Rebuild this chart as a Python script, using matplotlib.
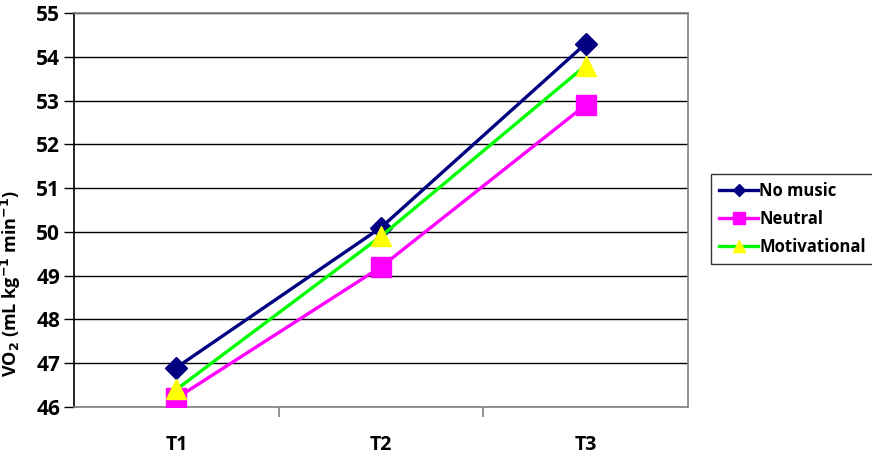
import matplotlib.pyplot as plt
import numpy as np

plt.rcParams['font.family'] = ['Open Sans', 'DejaVu Sans']

# data
times = ['T1', 'T2', 'T3']
no_music = [46.9, 50.1, 54.3]
neutral = [46.2, 49.2, 52.9]
motivational = [46.4, 49.9, 53.8]

fig = plt.figure(figsize=(8.72, 4.72), dpi=100)
ax = fig.add_axes([0.0849, 0.1377, 0.7041, 0.8348])

x = np.arange(len(times))
ax.plot(x, no_music, color='#000080', lw=2.4, marker='D', ms=11,
        mfc='#000080', mec='#000080', label='No music', zorder=3)
ax.plot(x, neutral, color='#FF00FF', lw=2.4, marker='s', ms=14,
        mfc='#FF00FF', mec='#FF00FF', label='Neutral', zorder=3)
ax.plot(x, motivational, color='#00FF00', lw=2.4, marker='^', ms=15,
        mfc='#FFFF00', mec='#FFFF00', label='Motivational', zorder=4)

ax.set_xlim(-0.5, 2.5)
ax.set_ylim(46, 55)
ax.set_yticks(np.arange(46, 56, 1))
ax.yaxis.grid(True, color='black', lw=1)
ax.set_axisbelow(True)

# category labels centred, tick marks at boundaries
ax.set_xticks(x)
ax.set_xticklabels(times, fontsize=14, fontweight='bold')
ax.tick_params(axis='x', length=0, pad=20)
ax.set_xticks([0.5, 1.5], minor=True)
ax.tick_params(axis='x', which='minor', length=7, color='#808080', width=1.2)
ax.tick_params(axis='y', length=7, width=1, labelsize=15, pad=3)
for lab in ax.get_yticklabels():
    lab.set_fontweight('bold')

ax.spines['left'].set_color('black')
ax.spines['bottom'].set_color('#808080')
ax.spines['top'].set_color('#808080')
ax.spines['right'].set_color('#808080')
for s in ax.spines.values():
    s.set_linewidth(1.2)

fig.text(0.013, 0.40, r'VO$_\mathbf{2}$ (mL kg$^\mathbf{-1}$ min$^\mathbf{-1}$)',
         rotation=90, va='center', ha='center', fontsize=13, fontweight='bold')

leg = fig.legend(loc='upper left', bbox_to_anchor=(0.806, 0.65),
                 frameon=True, fancybox=False, edgecolor='black',
                 prop={'weight': 'bold', 'size': 12}, handlelength=2.3,
                 handletextpad=0.1, borderpad=0.5, labelspacing=0.6,
                 markerscale=0.6)
leg.get_frame().set_linewidth(1)

fig.savefig('out.png', dpi=100)
